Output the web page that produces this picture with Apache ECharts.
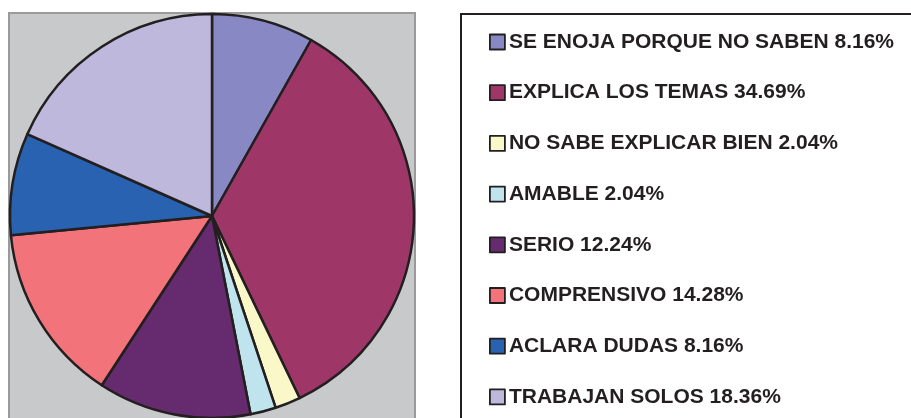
<!DOCTYPE html>
<html>
<head>
<meta charset="utf-8">
<script src="https://cdn.jsdelivr.net/npm/echarts@6/dist/echarts.min.js"></script>
<style>
  html, body { margin: 0; padding: 0; background: #fff; }
  #pieChart { width: 911px; height: 418px; }
</style>
</head>
<body>
<div id="pieChart"></div>
<script>
var categories = ["SE ENOJA PORQUE NO SABEN", "EXPLICA LOS TEMAS", "NO SABE EXPLICAR BIEN", "AMABLE",
                  "SERIO", "COMPRENSIVO", "ACLARA DUDAS", "TRABAJAN SOLOS"];
var percents = [8.16, 34.69, 2.04, 2.04, 12.24, 14.28, 8.16, 18.36];
var colors = ["#8888c4", "#9e3768", "#faf8c8", "#bfe4ee", "#652b6e", "#f2737a", "#2862b0", "#bdb8dc"];

var chartDom = document.getElementById("pieChart");
var myChart = echarts.init(chartDom);

var pieData = categories.map(function (name, i) {
  return { name: name, value: percents[i], itemStyle: { color: colors[i] } };
});

var option = {
  animation: false,
  graphic: [
    {
      // fondo gris del area de trazado
      type: "rect",
      shape: { x: 9, y: 13, width: 406, height: 420 },
      style: { fill: "#c8c9cb", stroke: "#9a9a9a", lineWidth: 2 },
      z: -10
    },
    {
      // caja de la leyenda
      type: "rect",
      shape: { x: 461, y: 14, width: 470, height: 420 },
      style: { fill: "#fff", stroke: "#231f20", lineWidth: 2 },
      z: -10
    }
  ],
  legend: {
    orient: "vertical",
    left: 489,
    top: 31.5,
    padding: 0,
    icon: "rect",
    itemWidth: 15,
    itemHeight: 15,
    itemGap: 29.7,
    itemStyle: { borderColor: "#231f20", borderWidth: 1.8 },
    textStyle: {
      color: "#231f20",
      fontFamily: "Liberation Sans, Arial, sans-serif",
      fontWeight: "bold",
      fontSize: 21,
      lineHeight: 21,
      padding: [0, 0, 0, -1]
    },
    formatter: function (name) {
      var i = categories.indexOf(name);
      return name + " " + percents[i].toFixed(2) + "%";
    },
    data: categories
  },
  series: [
    {
      type: "pie",
      center: [212, 216],
      radius: 202,
      startAngle: 90,
      clockwise: true,
      label: { show: false },
      labelLine: { show: false },
      emphasis: { disabled: true },
      itemStyle: { borderColor: "#231f20", borderWidth: 2.5 },
      data: pieData
    }
  ]
};

option && myChart.setOption(option);
</script>
</body>
</html>
